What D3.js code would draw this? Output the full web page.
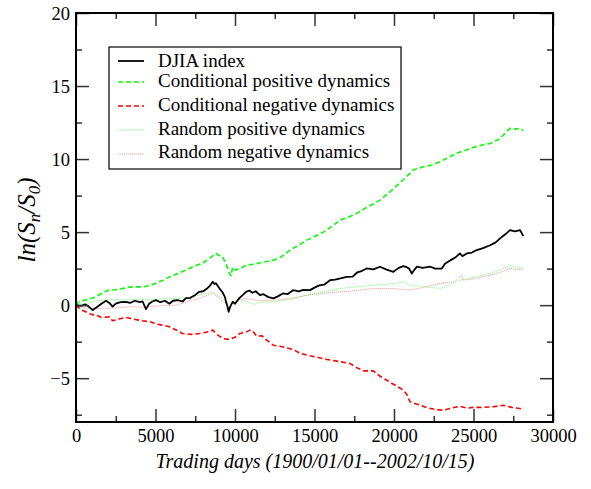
<!DOCTYPE html>
<html>
<head>
<meta charset="utf-8">
<script src="https://cdn.jsdelivr.net/npm/d3@7"></script>
<style>
  html, body { margin: 0; padding: 0; background: #fff; }
  svg { display: block; }
</style>
</head>
<body>
<svg id="chart" width="591" height="489"></svg>
<script>
// ---------------- data ----------------
const djia = [[0,0],[300,-0.05],[600,0.05],[800,-0.1],[1050,-0.34],[1300,-0.15],[1600,0.1],[1890,0.3],[2100,0.15],[2300,-0.1],[2500,0.1],[2800,0.2],[3140,0.23],[3400,0.15],[3700,0.3],[4000,0.2],[4190,0.25],[4400,-0.27],[4600,0.1],[4800,0.25],[5030,0.34],[5300,0.2],[5600,0.3],[5870,0.1],[6100,0.3],[6400,0.35],[6700,0.25],[6920,0.48],[7200,0.5],[7500,0.7],[7740,0.91],[8000,0.95],[8200,1.1],[8400,1.3],[8600,1.6],[8700,1.45],[8800,1.5],[9020,1.15],[9200,0.9],[9350,0.6],[9440,0.23],[9550,-0.2],[9600,-0.46],[9700,-0.1],[9850,0.23],[10000,0.1],[10270,0.48],[10500,0.7],[10690,0.91],[10900,1.0],[11100,0.85],[11300,0.95],[11570,0.68],[11800,0.75],[12100,0.55],[12410,0.46],[12700,0.6],[13000,0.8],[13300,0.75],[13670,1.03],[14000,0.95],[14300,1.05],[14720,1.03],[15000,1.2],[15300,1.35],[15600,1.4],[15980,1.71],[16300,1.75],[16700,1.85],[17030,1.94],[17400,1.95],[17700,2.25],[18000,2.35],[18280,2.51],[18700,2.45],[19120,2.63],[19500,2.45],[19960,2.28],[20300,2.55],[20590,2.67],[20800,2.6],[20950,2.5],[21120,2.17],[21300,2.45],[21440,2.63],[21800,2.55],[22280,2.63],[22600,2.5],[23010,2.51],[23220,2.85],[23600,3.1],[23900,3.3],[24150,3.54],[24300,3.35],[24600,3.55],[24900,3.6],[25200,3.77],[25600,3.9],[26040,4.1],[26400,4.3],[26670,4.57],[27000,4.85],[27300,5.14],[27600,5.05],[27930,5.14],[28130,4.73]];

const condPositive = [[0,0],[150,0.2],[400,0.3],[800,0.4],[1200,0.55],[1600,0.8],[2075,1.03],[2500,1.05],[3000,1.15],[3500,1.25],[4200,1.25],[4700,1.35],[5100,1.55],[5470,1.7],[6000,2.0],[6500,2.2],[6900,2.4],[7400,2.65],[8000,2.9],[8400,3.2],[8800,3.55],[9000,3.4],[9220,3.3],[9400,2.9],[9550,2.5],[9640,2.2],[9750,2.0],[9850,2.6],[10000,2.4],[10270,2.5],[10500,2.6],[10690,2.74],[11200,2.8],[11800,2.95],[12410,3.08],[12900,3.3],[13500,3.8],[14000,4.1],[14510,4.45],[15000,4.7],[15560,5.0],[16100,5.4],[16600,5.82],[17100,6.0],[17650,6.28],[18300,6.7],[19120,7.19],[19750,7.76],[20200,8.2],[20600,8.6],[21210,9.25],[21840,9.47],[22400,9.6],[22890,9.82],[23400,10.1],[23940,10.4],[24500,10.6],[24990,10.8],[25500,10.95],[26040,11.07],[26670,11.4],[27000,11.8],[27300,12.1],[27600,12.05],[27930,12.1],[28130,11.95]];

const condNegative = [[0,0],[300,-0.3],[700,-0.5],[1000,-0.65],[1260,-0.68],[1600,-0.85],[2100,-0.8],[2300,-1.07],[2700,-0.95],[3140,-0.84],[3600,-0.95],[4190,-1.07],[4700,-1.15],[5100,-1.3],[5450,-1.37],[5870,-1.48],[6300,-1.7],[6700,-1.94],[7200,-2.0],[7760,-1.94],[8200,-1.85],[8600,-1.71],[8800,-1.95],[9020,-2.12],[9300,-2.3],[9650,-2.35],[10000,-2.2],[10310,-1.94],[10690,-1.85],[10940,-1.71],[11100,-1.75],[11360,-2.12],[11700,-2.1],[12000,-2.4],[12410,-2.74],[13000,-2.85],[13670,-3.04],[14100,-3.3],[14510,-3.42],[15100,-3.55],[15770,-3.72],[16500,-3.85],[17240,-4.0],[17700,-4.3],[18080,-4.5],[18700,-4.5],[19100,-4.85],[19540,-5.14],[20100,-5.5],[20590,-5.82],[20800,-6.1],[21010,-6.62],[21500,-6.8],[22060,-7.01],[22600,-7.15],[23110,-7.19],[23600,-7.05],[24150,-6.92],[24600,-7.05],[24990,-7.0],[25600,-7.0],[26250,-6.96],[26880,-6.85],[27400,-7.0],[27930,-7.08],[28100,-7.24]];

const randPositive = [[0,0],[500,0.1],[1000,0.25],[1500,0.3],[2100,0.4],[3000,0.35],[4190,0.4],[5000,0.4],[6290,0.48],[7000,0.5],[7800,0.7],[8600,0.91],[9000,0.6],[9220,0.48],[9450,0.1],[9650,-0.34],[9850,0.1],[10270,0.4],[10700,0.25],[11200,0.05],[11600,0.2],[12410,0.23],[13500,0.4],[14510,0.68],[15500,0.9],[16600,1.14],[17600,1.25],[18700,1.37],[19750,1.44],[20690,1.6],[21000,1.37],[22000,1.25],[22890,1.14],[23500,1.4],[24150,1.71],[25000,1.9],[26040,2.17],[26700,2.4],[27300,2.74],[27700,2.55],[28130,2.51]];

const randNegative = [[0,0],[600,-0.2],[1260,-0.23],[2500,-0.2],[3500,-0.1],[4190,-0.15],[5200,-0.05],[6290,0],[7200,0.3],[8000,0.55],[8600,0.82],[9020,0.45],[9300,0.2],[9650,-0.15],[9850,0.2],[10270,0.4],[10700,0.45],[11500,0.3],[12410,0.34],[13500,0.45],[14510,0.68],[15500,0.8],[16600,0.91],[17600,1.0],[18700,1.14],[19750,1.14],[21010,1.03],[22000,1.25],[22890,1.48],[23800,1.6],[24260,2.05],[24350,1.71],[25000,1.8],[26040,2.05],[26700,2.25],[27300,2.51],[28130,2.4]];

const seriesNames = ["DJIA index", "Conditional positive dynamics", "Conditional negative dynamics", "Random positive dynamics", "Random negative dynamics"];
const xMajorTicks = [0, 5000, 10000, 15000, 20000, 25000, 30000];
const xMinorTicks = [2500, 7500, 12500, 17500, 22500, 27500];
const yMajorTicks = [-5, 0, 5, 10, 15, 20];
const yMinorTicks = [-7.5, -2.5, 2.5, 7.5, 12.5, 17.5];
const xTitle = "Trading days (1900/01/01--2002/10/15)";

// ---------------- chart ----------------
const FONT = "'Liberation Serif', Tinos, 'Times New Roman', 'DejaVu Serif', serif";
const svg = d3.select("#chart");
const L = 76, R = 553, T = 13, B = 422;
const x = d3.scaleLinear().domain([0, 30000]).range([L, R]);
const y = d3.scaleLinear().domain([-8, 20]).range([B, T]);

const styles = [
  { data: djia,         color: "#000000", width: 1.8, dash: null,  opacity: 1 },
  { data: condPositive, color: "#00ff00", width: 1.6, dash: "5,3", opacity: 1 },
  { data: condNegative, color: "#ff0000", width: 1.6, dash: "5,3", opacity: 1 },
  { data: randPositive, color: "#00ff00", width: 1,   dash: "1,1", opacity: 0.55 },
  { data: randNegative, color: "#ff0000", width: 1,   dash: "1,1", opacity: 0.45 }
];

const line = d3.line().x(d => x(d[0])).y(d => y(d[1]));

svg.append("clipPath").attr("id", "plotclip")
  .append("rect").attr("x", L).attr("y", T).attr("width", R - L).attr("height", B - T);

const plot = svg.append("g").attr("clip-path", "url(#plotclip)");
[4, 3, 2, 1, 0].forEach(i => {
  const s = styles[i];
  plot.append("path")
    .datum(s.data)
    .attr("d", line)
    .attr("fill", "none")
    .attr("stroke", s.color)
    .attr("stroke-width", s.width)
    .attr("stroke-opacity", s.opacity)
    .attr("stroke-dasharray", s.dash)
    .attr("stroke-linejoin", "round");
});

// ---------------- axes (ticks inward on all four sides) ----------------
function styleAxis(g) {
  g.attr("font-family", null).attr("font-size", null);
  g.select(".domain").remove();
  g.selectAll(".tick line").attr("stroke", "#333").attr("stroke-width", 1.5);
  g.selectAll("text").style("font-family", FONT).style("font-size", "18.5px").attr("fill", "#000");
}
const noLabel = () => "";

svg.append("g").attr("transform", `translate(0,${B})`)
  .call(d3.axisBottom(x).tickValues(xMajorTicks).tickSizeInner(-13).tickSizeOuter(0).tickFormat(d3.format("d")))
  .call(styleAxis)
  .call(g => g.selectAll("text").attr("dy", 0).attr("y", 20));
svg.append("g").attr("transform", `translate(0,${B})`)
  .call(d3.axisBottom(x).tickValues(xMinorTicks).tickSizeInner(-6).tickSizeOuter(0).tickFormat(noLabel))
  .call(styleAxis);
svg.append("g").attr("transform", `translate(0,${T})`)
  .call(d3.axisTop(x).tickValues(xMajorTicks).tickSizeInner(-13).tickSizeOuter(0).tickFormat(noLabel))
  .call(styleAxis);
svg.append("g").attr("transform", `translate(0,${T})`)
  .call(d3.axisTop(x).tickValues(xMinorTicks).tickSizeInner(-6).tickSizeOuter(0).tickFormat(noLabel))
  .call(styleAxis);
svg.append("g").attr("transform", `translate(${L},0)`)
  .call(d3.axisLeft(y).tickValues(yMajorTicks).tickSizeInner(-13).tickSizeOuter(0).tickFormat(d3.format("d")))
  .call(styleAxis)
  .call(g => g.selectAll("text").attr("x", -6).attr("dy", "0.35em"));
svg.append("g").attr("transform", `translate(${L},0)`)
  .call(d3.axisLeft(y).tickValues(yMinorTicks).tickSizeInner(-6).tickSizeOuter(0).tickFormat(noLabel))
  .call(styleAxis);
svg.append("g").attr("transform", `translate(${R},0)`)
  .call(d3.axisRight(y).tickValues(yMajorTicks).tickSizeInner(-13).tickSizeOuter(0).tickFormat(noLabel))
  .call(styleAxis);
svg.append("g").attr("transform", `translate(${R},0)`)
  .call(d3.axisRight(y).tickValues(yMinorTicks).tickSizeInner(-6).tickSizeOuter(0).tickFormat(noLabel))
  .call(styleAxis);

svg.append("rect").attr("x", L).attr("y", T).attr("width", R - L).attr("height", B - T)
  .attr("fill", "none").attr("stroke", "#000").attr("stroke-width", 2);

// axis titles
svg.append("text")
  .attr("x", 315).attr("y", 468)
  .attr("text-anchor", "middle")
  .style("font-family", FONT).style("font-size", "20px").style("font-style", "italic")
  .text(xTitle);

const yt = svg.append("text")
  .attr("transform", "translate(35,220) rotate(-90)")
  .attr("text-anchor", "middle")
  .style("font-family", FONT).style("font-size", "25px").style("font-style", "italic");
yt.append("tspan").text("ln(S");
yt.append("tspan").style("font-size", "17px").attr("dy", 5).text("n");
yt.append("tspan").attr("dy", -5).text("/S");
yt.append("tspan").style("font-size", "17px").attr("dy", 5).text("0");
yt.append("tspan").attr("dy", -5).text(")");

// legend
const lg = svg.append("g");
lg.append("rect").attr("x", 109).attr("y", 47).attr("width", 292).attr("height", 122)
  .attr("fill", "#fff").attr("stroke", "#000").attr("stroke-width", 1.2);
const lineYs = [61, 82, 106, 130, 154];
const textYs = [67, 87, 111, 135, 158];
seriesNames.forEach((name, i) => {
  const s = styles[i];
  lg.append("line")
    .attr("x1", 118).attr("x2", 144).attr("y1", lineYs[i]).attr("y2", lineYs[i])
    .attr("stroke", s.color).attr("stroke-width", s.width)
    .attr("stroke-opacity", s.opacity)
    .attr("stroke-dasharray", s.dash);
  lg.append("text").attr("x", 158).attr("y", textYs[i])
    .style("font-family", FONT).style("font-size", "19px").attr("fill", "#000")
    .text(name);
});
</script>
</body>
</html>
